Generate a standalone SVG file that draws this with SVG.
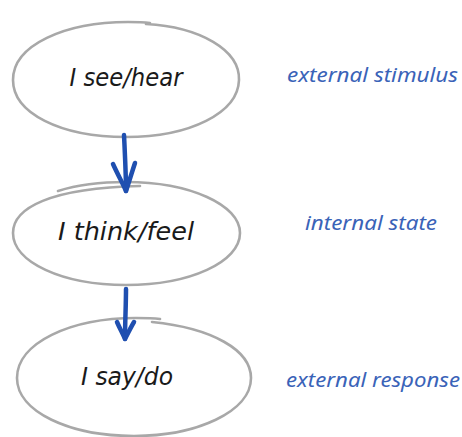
<svg xmlns="http://www.w3.org/2000/svg" width="462" height="437" viewBox="0 0 462 437">
<defs>
<style>
.node-shape{fill:none;stroke:#a8a8a8;stroke-width:2.6;stroke-linecap:round}
.node-text{font-family:"DejaVu Sans","Liberation Sans",sans-serif;font-style:italic;font-size:24px;fill:#1a1a1a;text-anchor:middle}
.label{font-family:"Noto Sans","Liberation Sans",sans-serif;font-style:italic;font-size:20.5px;fill:#3a63b8}
.conn{fill:none;stroke:#1f4fb0;stroke-width:4.5;stroke-linecap:round;stroke-linejoin:round}
</style>
</defs>
<rect width="462" height="437" fill="#ffffff"/>
<g id="node-see">
<path class="node-shape" d="M146,24 C200,27 240,50 239,80 C238,113 190,137 126,137 C60,137 13,113 13,80 C13,45 65,22 128,22 C136,22 142,22 150,23"/>
<text class="node-text" x="126" y="86" textLength="113" lengthAdjust="spacingAndGlyphs">I see/hear</text>
</g>
<g id="node-think">
<path class="node-shape" d="M58,191 C80,184 105,182 126,182 C190,182 240,205 240,233 C240,262 190,285 126,285 C62,285 13,262 13,233 C13,208 50,188 140,186"/>
<text class="node-text" x="126" y="240" textLength="136" lengthAdjust="spacingAndGlyphs">I think/feel</text>
</g>
<g id="node-say">
<path class="node-shape" d="M152,322 C212,328 251,350 251,378 C251,412 196,436 134,436 C70,436 17,412 17,378 C17,343 70,318 136,318 C144,318 152,318 160,319"/>
<text class="node-text" x="127" y="385" textLength="92" lengthAdjust="spacingAndGlyphs">I say/do</text>
</g>
<g id="label-stimulus">
<text class="label" x="287" y="82" textLength="171" lengthAdjust="spacingAndGlyphs">external stimulus</text>
</g>
<g id="label-state">
<text class="label" x="305" y="230" textLength="132" lengthAdjust="spacingAndGlyphs">internal state</text>
</g>
<g id="label-response">
<text class="label" x="286" y="387" textLength="174" lengthAdjust="spacingAndGlyphs">external response</text>
</g>
<g id="connectors">
<path class="conn" d="M124,135 C125,155 126,175 126,191"/>
<path class="conn" d="M113,164 C118,175 123,184 126,191 C129,182 132,172 135,163"/>
<path class="conn" d="M126,289 C126,305 125,322 125,339"/>
<path class="conn" d="M117,322 C120,329 123,334 125,339 C128,333 131,327 134,322"/>
</g>
</svg>
